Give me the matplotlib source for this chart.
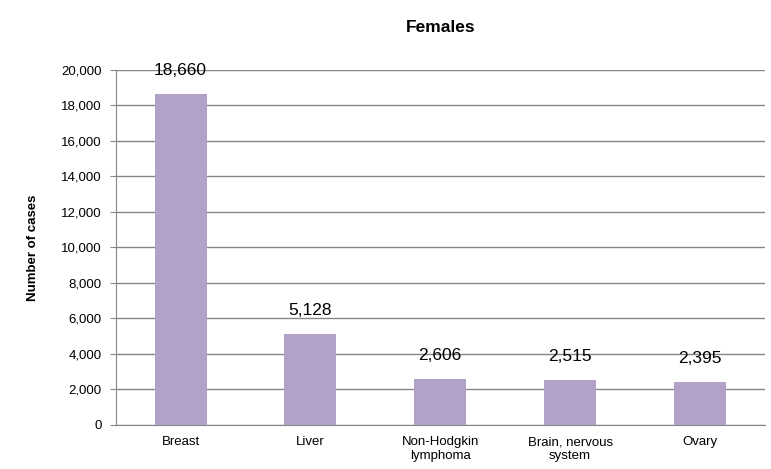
import matplotlib.pyplot as plt
from matplotlib.ticker import FuncFormatter

categories = ['Breast', 'Liver', 'Non-Hodgkin\nlymphoma', 'Brain, nervous\nsystem', 'Ovary']
cases = [18660, 5128, 2606, 2515, 2395]
yticks = list(range(0, 20001, 2000))

plt.rcParams['font.family'] = ['Liberation Sans', 'DejaVu Sans']

fig = plt.figure(figsize=(7.71, 4.69), dpi=100)
ax = fig.add_axes([0.150, 0.094, 0.842, 0.757])

x = list(range(len(categories)))
ax.bar(x, cases, width=0.4, color='#B2A2C7', zorder=3)

for xi, v in zip(x, cases):
    ax.annotate(f'{v:,}', (xi, v), xytext=(0, 17), textcoords='offset points',
                ha='center', va='center', fontsize=12.5, color='black', zorder=4)

ax.set_xlim(-0.5, len(categories) - 0.5)
ax.set_ylim(0, 20000)
ax.set_yticks(yticks)
ax.yaxis.set_major_formatter(FuncFormatter(lambda v, p: f'{int(v):,}'))
ax.set_xticks(x)
ax.set_xticklabels(categories, fontsize=9.5)
ax.tick_params(axis='y', labelsize=9.5, length=4, color='#868686', direction='out', pad=6)
ax.tick_params(axis='x', length=0, pad=8)

ax.grid(axis='y', color='#868686', linewidth=1, zorder=0)
for s in ['top', 'right']:
    ax.spines[s].set_visible(False)
ax.spines['left'].set_color('#868686')
ax.spines['bottom'].set_color('#868686')

ax.set_ylabel('Number of cases', fontsize=9.5, fontweight='bold', labelpad=16)
ax.set_title('Females', fontsize=12.5, fontweight='bold', pad=27)

fig.savefig('out.png', dpi=100)
